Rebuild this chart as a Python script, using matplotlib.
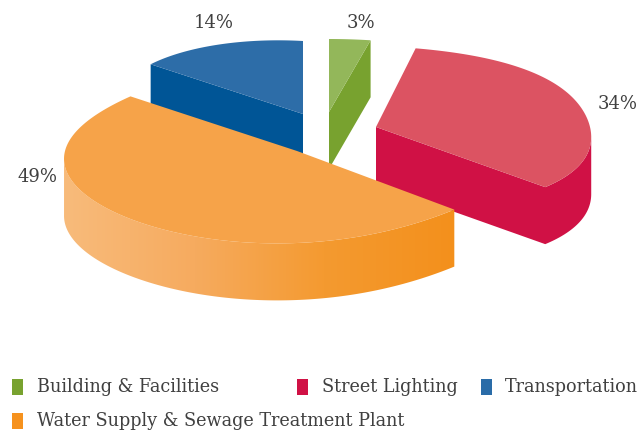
import numpy as np
import matplotlib
matplotlib.use('Agg')
import matplotlib.pyplot as plt
from matplotlib.colors import LinearSegmentedColormap
from matplotlib.patches import Polygon, Rectangle

labels = ['Building & Facilities', 'Street Lighting', 'Transportation', 'Water Supply & Sewage Treatment Plant']
shares = [3, 34, 14, 49]
pie_order = [0, 1, 3, 2]  # clockwise from 12 o'clock: green, red, orange, blue
top_colors = ['#93B75A', '#DC5362', '#2D6DA8', '#F6A349']
side_colors = ['#78A22F', '#D01145', '#005596', '#F49A30']
legend_colors = ['#78A22F', '#D01145', '#2A6CA8', '#F6921E']

cum = np.cumsum([shares[i] for i in pie_order])
starts = dict(zip(pie_order, np.r_[0, cum[:-1]] * 3.6))
ends = dict(zip(pie_order, cum * 3.6))

# apex x, apex y, radius x, radius y, roundness k, skew m of each slice (pixels)
geom = {0: (329, 112, 222, 73, 0, 0),
        1: (376, 127, 214, 81, -0.04, 0.045),
        2: (303, 114, 185, 73, 0, 0.07),
        3: (297, 151, 232, 92, 0.02, -0.05)}
depth = 57


def outline(i, a0, a1, n=200):
    cx, cy, rx, ry, k, m = geom[i]
    t = np.radians(np.linspace(a0, a1, n))
    r = 1 - k * np.sin(2 * t) ** 2 - m * np.sin(2 * t)
    return np.c_[cx + rx * r * np.sin(t), cy - ry * r * np.cos(t)]


def wall(points):
    return np.r_[points, (points + [0, depth])[::-1]]


fig = plt.figure(figsize=(6.39, 4.32), dpi=100)
ax = fig.add_axes([0, 0, 1, 1])

for i in [2, 0, 1, 3]:
    cx, cy = geom[i][:2]
    apex = np.array([[cx, cy]])
    rim = outline(i, starts[i], ends[i])
    if i == 0:
        side = np.r_[apex, rim[-1:]]
    elif i == 2:
        side = np.r_[rim[:1], apex]
    elif i == 1:
        # wall runs from the cut edge up to the rightmost point of the rim
        back = rim[::-1]
        side = np.r_[apex, back[:np.argmax(back[:, 0]) + 1]]
    else:
        # front of the big slice, up to the leftmost point of the rim
        side = rim[:np.argmin(rim[:, 0]) + 1]

    if i == 3:
        poly = Polygon(wall(side), closed=True, fc='none', ec='none', zorder=i + 2)
        ax.add_patch(poly)
        grad = LinearSegmentedColormap.from_list('wall', ['#F8BB7B', '#F6AB5F', '#F49A30', '#F3901C'])
        im = ax.imshow(np.linspace(0, 1, 256)[None, :], cmap=grad, aspect='auto',
                       extent=[side[:, 0].min(), side[:, 0].max(), 432, 0], zorder=i + 2)
        im.set_clip_path(poly)
    else:
        ax.add_patch(Polygon(wall(side), closed=True, fc=side_colors[i], ec='none', zorder=i + 2))
    ax.add_patch(Polygon(np.r_[apex, rim], closed=True, fc=top_colors[i], ec='none', zorder=i + 2.5))

tc = '#404040'
font = 'DejaVu Serif'
for txt, x, y in [('14%', 214, 23), ('3%', 361, 23), ('34%', 618, 104), ('49%', 38, 177)]:
    ax.text(x, y, txt, ha='center', va='center', color=tc, family=font, fontsize=13)

legend_pos = [(12, 387), (297, 387), (481, 387), (12, 421)]
text_x = [37, 322, 505, 37]
for lab, col, (x, y), tx in zip(labels, legend_colors, legend_pos, text_x):
    ax.add_patch(Rectangle((x, y - 8), 11, 16, fc=col, ec='none'))
    ax.text(tx, y, lab, ha='left', va='center', color=tc, family=font, fontsize=12.7)

ax.set_xlim(0, 639)
ax.set_ylim(432, 0)
ax.axis('off')
fig.savefig('out.png', dpi=100)
